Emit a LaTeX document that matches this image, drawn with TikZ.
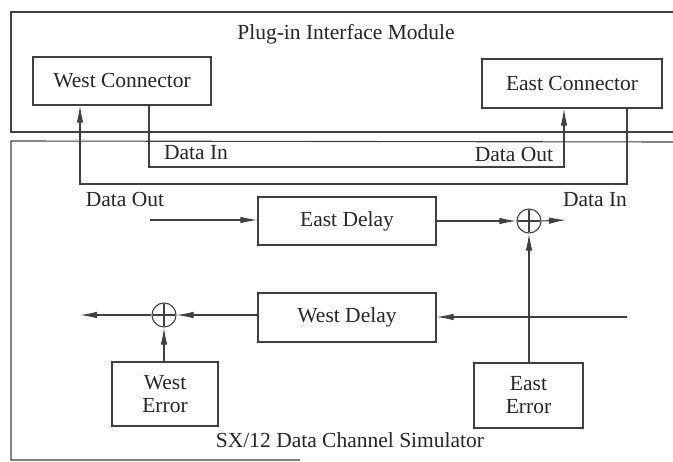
\documentclass[tikz,border=0pt]{standalone}
\usepackage{fontspec}
\setmainfont{Liberation Serif}
\usetikzlibrary{arrows.meta}
\begin{document}
\begin{tikzpicture}[x=1pt,y=-1pt,
  line width=1.1pt, draw={black!75},
  txt/.style={font=\fontsize{21.5}{23}\selectfont, text=black!85, inner sep=0pt},
  sumc/.style={draw, circle, minimum size=24pt, inner sep=0pt},
  arr/.style={-{Latex[length=17pt,width=6.5pt]}}]
\useasboundingbox (0,0) rectangle (673,462);
% enclosures
\draw (673,12) -- (11,12) -- (11,132) -- (673,132);
\draw (673,142) -- (11,141) -- (11,460) -- (300,460);
\node[txt] (title) at (346,34) {Plug-in Interface Module};
\node[txt] (simt) at (350,440) {SX/12 Data Channel Simulator};
% connectors
\node[draw, minimum width=178pt, minimum height=48pt, inner sep=0pt, txt] (wc) at (122,81) {West Connector};
\node[draw, minimum width=180pt, minimum height=49pt, inner sep=0pt, txt] (ec) at (572,83.5) {East Connector};
% delays
\node[draw, minimum width=178pt, minimum height=48pt, inner sep=0pt, txt] (ed) at (347,221) {East Delay};
\node[draw, minimum width=178pt, minimum height=49pt, inner sep=0pt, txt] (wd) at (347,317.5) {West Delay};
% errors
\node[draw, minimum width=106pt, minimum height=64pt, inner sep=0pt, txt, align=center] (we) at (165,394) {West\\Error};
\node[draw, minimum width=109pt, minimum height=65pt, inner sep=0pt, txt, align=center] (ee) at (528.5,395.5) {East\\Error};
% adders
\node[sumc] (sw) at (164,315) {};
\node[sumc] (se) at (529,221) {};
\draw ([xshift=2pt]sw.west) -- ([xshift=-2pt]sw.east) ([yshift=-2pt]sw.north) -- ([yshift=2pt]sw.south);
\draw ([xshift=2pt]se.west) -- ([xshift=-2pt]se.east) ([yshift=-2pt]se.north) -- ([yshift=2pt]se.south);
% coordinates
\coordinate (wcin) at (80,184);
\coordinate (ecout) at (627,184);
\coordinate (wcout) at (149,167);
\coordinate (ecin) at (564,167);
\coordinate (edin) at (150,220);
\coordinate (seout) at (566,220);
\coordinate (wdin) at (627,317);
\coordinate (swout) at (80,315);
% loops between connectors
\draw[arr] (ec.south -| ecout) -- (ecout) -- (wcin) -- (wcin |- wc.south);
\draw[arr] (wc.south -| wcout) -- (wcout) -- (ecin) -- (ecin |- ec.south);
% labels
\node[txt] (lDI1) at (196,153) {Data In};
\node[txt] (lDO1) at (514,154) {Data Out};
\node[txt] (lDO2) at (125,199) {Data Out};
\node[txt] (lDI2) at (595,200) {Data In};
% east path
\draw[arr] (edin) -- (ed.west |- edin);
\draw[arr] (ed.east) -- (se.west);
\draw[arr] (se.east) -- (seout);
\draw[arr] (ee.north -| se) -- (se.south);
% west path
\draw[arr] (wdin) -- (wd.east |- wdin);
\draw[arr] (wd.west |- sw) -- (sw.east);
\draw[arr] (sw.west) -- (swout);
\draw[arr] (we.north -| sw) -- (sw.south);
\end{tikzpicture}
\end{document}
